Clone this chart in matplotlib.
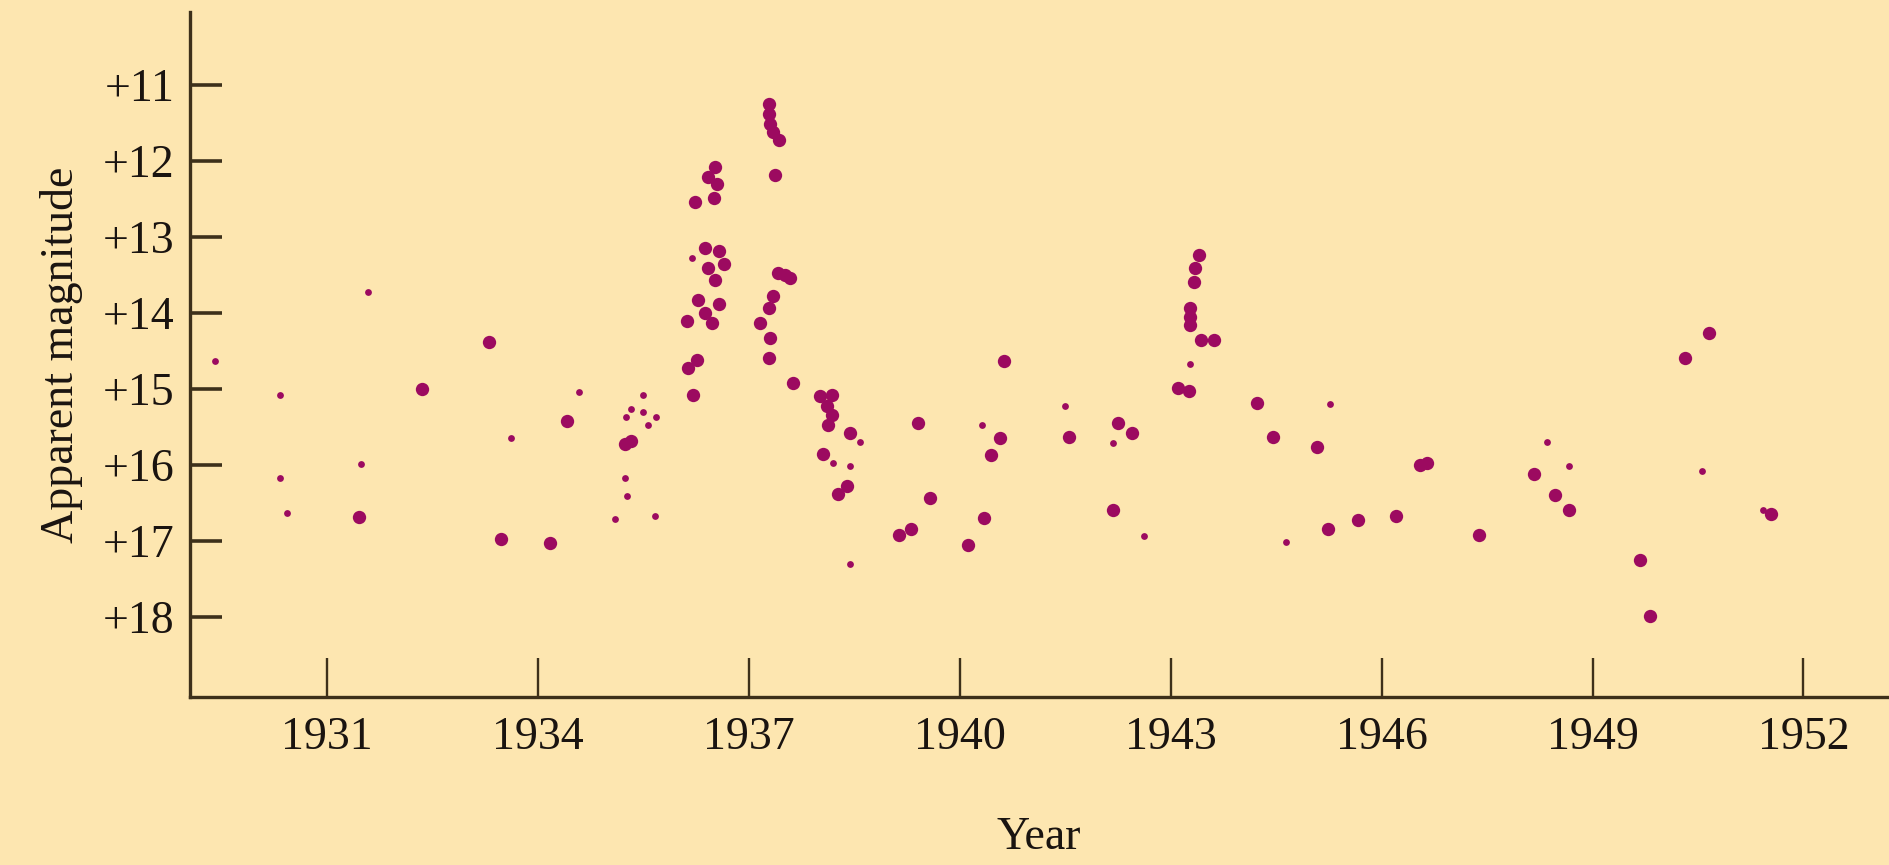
import numpy as np
import matplotlib.pyplot as plt

# large dots: year, apparent magnitude
big_year = [1932.35, 1933.31, 1934.42, 1931.45, 1933.47, 1934.17, 1935.33, 1935.24,
            1936.52, 1936.42, 1936.54, 1936.50, 1936.24,
            1936.38, 1936.57, 1936.42, 1936.64, 1936.52,
            1936.28, 1936.57, 1936.38, 1936.47, 1936.12,
            1936.26, 1936.14, 1936.21,
            1937.28, 1937.29, 1937.30, 1937.35, 1937.43, 1937.37,
            1937.42, 1937.52, 1937.59,
            1937.35, 1937.28, 1937.16, 1937.30, 1937.28, 1937.63,
            1938.01, 1938.18, 1938.11, 1938.18, 1938.13, 1938.44, 1938.06,
            1938.39, 1938.27,
            1939.40, 1939.57, 1939.14, 1939.30,
            1940.11, 1940.34, 1940.57, 1940.44, 1940.63,
            1941.55, 1942.25, 1942.45, 1942.18,
            1943.40, 1943.34, 1943.33, 1943.27, 1943.28, 1943.27,
            1943.43, 1943.62, 1943.11, 1943.26,
            1944.22, 1944.45, 1945.08, 1945.23, 1945.67, 1946.21,
            1946.55, 1946.64, 1947.38,
            1948.16, 1948.46, 1948.67, 1949.67, 1949.81,
            1950.31, 1950.65, 1951.54]
big_mag = [15.00, 14.38, 15.42, 16.69, 16.98, 17.03, 15.69, 15.73,
           12.08, 12.21, 12.30, 12.49, 12.54,
           13.15, 13.19, 13.41, 13.35, 13.57,
           13.83, 13.88, 14.00, 14.13, 14.11,
           14.62, 14.73, 15.08,
           11.25, 11.38, 11.51, 11.62, 11.73, 12.19,
           13.48, 13.50, 13.54,
           13.78, 13.94, 14.13, 14.33, 14.59, 14.92,
           15.10, 15.08, 15.23, 15.34, 15.47, 15.58, 15.86,
           16.28, 16.39,
           15.45, 16.44, 16.92, 16.84,
           17.06, 16.70, 15.65, 15.87, 14.64,
           15.63, 15.45, 15.58, 16.59,
           13.24, 13.41, 13.59, 13.94, 14.05, 14.16,
           14.36, 14.36, 14.99, 15.03,
           15.19, 15.63, 15.77, 16.84, 16.73, 16.68,
           16.00, 15.97, 16.93,
           16.12, 16.40, 16.60, 17.25, 17.99,
           14.60, 14.27, 16.65]

# small dots
small_year = [1929.41, 1930.33, 1931.58, 1934.58, 1933.62, 1930.33, 1930.43, 1931.49,
              1935.10, 1935.24, 1935.26, 1935.67, 1935.49,
              1935.33, 1935.49, 1935.25, 1935.68, 1935.57,
              1936.19, 1938.58, 1938.19, 1938.44, 1938.44,
              1940.31, 1941.50, 1942.18, 1942.62, 1943.27,
              1944.64, 1945.27, 1948.35, 1948.67, 1950.56, 1951.43]
small_mag = [14.63, 15.08, 13.72, 15.04, 15.65, 16.18, 16.63, 15.99,
             16.71, 16.18, 16.41, 16.67, 15.08,
             15.27, 15.30, 15.37, 15.37, 15.47,
             13.28, 15.70, 15.97, 16.02, 17.31,
             15.47, 15.22, 15.71, 16.94, 14.67,
             17.02, 15.20, 15.70, 16.01, 16.08, 16.59]

year_ticks = [1931, 1934, 1937, 1940, 1943, 1946, 1949, 1952]
mag_ticks = [11, 12, 13, 14, 15, 16, 17, 18]

bg = '#fde6b0'
dot = '#9c0a60'
ink = '#3d301a'

plt.rcParams['font.family'] = ['Liberation Serif', 'DejaVu Serif']

fig = plt.figure(figsize=(18.9, 8.65), dpi=100, facecolor=bg)
ax = fig.add_axes([0.1005, 0.194, 0.898, 0.792])
ax.set_facecolor(bg)

ax.scatter(big_year, big_mag, s=92, color=dot, linewidths=0, zorder=3)
ax.scatter(small_year, small_mag, s=24, color=dot, linewidths=0, zorder=3)

ax.set_xlim(1929.05, 1953.19)
ax.set_ylim(19.06, 10.04)

for side in ['top', 'right']:
    ax.spines[side].set_visible(False)
for side in ['left', 'bottom']:
    ax.spines[side].set_color(ink)
    ax.spines[side].set_linewidth(2.4)

ax.set_xticks(year_ticks)
ax.set_xticklabels([str(y) for y in year_ticks])
ax.set_yticks(mag_ticks)
ax.set_yticklabels(['+%d' % m for m in mag_ticks])

ax.tick_params(axis='x', direction='in', length=28, width=1.7, color=ink,
               labelsize=33, pad=14, labelcolor='#1a1410')
ax.tick_params(axis='y', direction='in', length=23, width=2.6, color=ink,
               labelsize=33, pad=11, labelcolor='#1a1410')

ax.set_xlabel('Year', fontsize=33, labelpad=41, color='#1a1410')
ax.set_ylabel('Apparent magnitude', fontsize=33, labelpad=14, color='#1a1410')

fig.savefig('out.png', dpi=100, facecolor=bg)
